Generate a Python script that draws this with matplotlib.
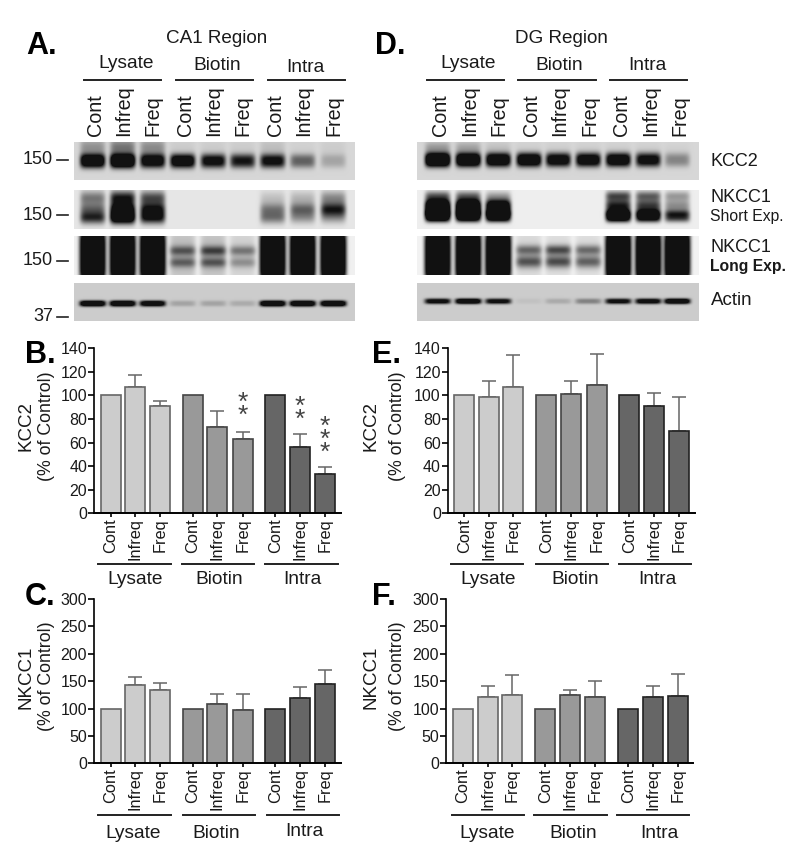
import numpy as np
import matplotlib
matplotlib.use("Agg")
import matplotlib.pyplot as plt
from matplotlib.lines import Line2D

plt.rcParams['font.family'] = ['Liberation Sans', 'DejaVu Sans']

# bar data
lanes = ["Cont", "Infreq", "Freq", "Cont", "Infreq", "Freq", "Cont", "Infreq", "Freq"]
groups = ["Lysate", "Biotin", "Intra"]

b_vals = [100, 107, 91, 100, 73, 63, 100, 56, 33]
b_errs = [0, 10, 4, 0, 14, 6, 0, 11, 6]
e_vals = [100, 99, 107, 100, 101, 109, 100, 91, 70]
e_errs = [0, 13, 27, 0, 11, 26, 0, 11, 29]
c_vals = [100, 143, 133, 100, 109, 97, 100, 120, 144]
c_errs = [0, 15, 14, 0, 18, 30, 0, 19, 27]
f_vals = [100, 121, 125, 100, 125, 121, 100, 121, 123]
f_errs = [0, 20, 36, 0, 9, 30, 0, 20, 40]

# blot band darkness per lane (0 = nothing, above 1 = saturated black)
a_kcc2_main = [1.5, 1.8, 1.3, 1.4, 1.15, 1.0, 1.1, .6, .25]
a_kcc2_smear = [.35, .5, .38, .05, .05, .05, .12, .03, .05]
a_short_up = [.5, .95, .7, 0, 0, 0, .15, .2, .4]
a_short_mid = [.55, 1.3, 1.0, 0, 0, 0, .5, .6, .95]
a_short_low = [.8, 1.4, .9, 0, 0, 0, .45, .3, .28]
a_long_main = [1.6, 1.6, 1.6, .22, .22, .14, 1.6, 1.6, 1.6]
a_long_up = [0, 0, 0, .5, .6, .42, 0, 0, 0]
a_long_low = [0, 0, 0, .45, .5, .3, 0, 0, 0]
a_actin = [1.6, 1.6, 1.4, .22, .22, .18, 1.6, 1.6, 1.6]

d_kcc2_main = [1.9, 1.7, 1.5, 1.5, 1.3, 1.35, 1.4, 1.2, .42]
d_kcc2_smear = [.3, .25, .1, .03, .03, .03, .03, .03, .02]
d_short_up = [.6, .55, .3, 0, 0, 0, .7, .6, .35]
d_short_main = [2, 2, 1.6, 0, 0, 0, 1.0, .85, .45]
d_short_low = [1.5, 1.4, 1.4, 0, 0, 0, 1.5, 1.3, .85]
d_long_main = [1.6, 1.6, 1.6, .12, .1, .1, 1.6, 1.6, 1.6]
d_long_up = [0, 0, 0, .5, .65, .5, 0, 0, 0]
d_long_low = [0, 0, 0, .6, .65, .55, 0, 0, 0]
d_actin = [1.2, 1.5, 1.15, .06, .18, .4, 1.15, 1.25, 1.5]

fig = plt.figure(figsize=(8, 8.61), dpi=100)
W, H = 800.0, 861.0


def put_text(x, y, s, size, **kw):
    kw.setdefault('ha', 'center')
    kw.setdefault('va', 'center')
    kw.setdefault('color', '#1a1a1a')
    fig.text(x / W, 1 - y / H, s, fontsize=size, **kw)


def put_line(x0, x1, y0, y1=None, lw=1.4, color='#222222'):
    y1 = y0 if y1 is None else y1
    fig.add_artist(Line2D([x0 / W, x1 / W], [1 - y0 / H, 1 - y1 / H], lw=lw, color=color))


def blot(left, right, top, bottom, lane_x, half_w, bg, bands):
    ax = fig.add_axes([left / W, 1 - bottom / H, (right - left) / W, (bottom - top) / H])
    xx, yy = np.meshgrid(np.arange(left, right) + .5, np.arange(top, bottom) + .5)
    dark = np.zeros_like(xx, dtype=float)
    for frac, hh, power, levels in bands:
        yc = top + frac * (bottom - top)
        for lx, d in zip(lane_x, levels):
            dark += d * np.exp(-(np.abs(xx - lx) / half_w) ** 6) * np.exp(-(np.abs(yy - yc) / hh) ** power)
    img = bg + (0.07 - bg) * np.clip(dark, 0, 1)
    ax.imshow(img, cmap='gray', vmin=0, vmax=1, aspect='auto', interpolation='bilinear')
    ax.axis('off')


# western blots
row_y = [(142, 180), (190, 229), (236, 275), (283, 321)]
a_x = [92.7, 122.7, 152.7, 182.7, 213.3, 242.7, 272.7, 302.7, 333.3]
d_x = [437.7, 468.3, 498.3, 529, 558.3, 588.3, 618.3, 648.3, 677.3]

blot(74, 355, *row_y[0], a_x, 12.5, .84, [(.5, 7, 2.5, a_kcc2_main), (.15, 9, 2, a_kcc2_smear)])
blot(74, 355, *row_y[1], a_x, 12.5, .90, [(.2, 7, 2, a_short_up), (.5, 7, 2, a_short_mid), (.72, 6, 2, a_short_low)])
blot(74, 355, *row_y[2], a_x, 13, .94, [(.5, 26, 6, a_long_main), (.38, 5, 2, a_long_up), (.68, 5, 2, a_long_low)])
blot(74, 355, *row_y[3], a_x, 13, .80, [(.54, 3, 2.5, a_actin)])

blot(417, 699, *row_y[0], d_x, 12.5, .84, [(.47, 7, 2.5, d_kcc2_main), (.15, 6, 2, d_kcc2_smear)])
blot(417, 699, *row_y[1], d_x, 12.5, .93, [(.15, 5, 2, d_short_up), (.45, 8, 2.5, d_short_main), (.68, 5.5, 2.5, d_short_low)])
blot(417, 699, *row_y[2], d_x, 13, .95, [(.5, 26, 6, d_long_main), (.36, 5, 2, d_long_up), (.66, 6, 2, d_long_low)])
blot(417, 699, *row_y[3], d_x, 13, .80, [(.48, 2.8, 2.5, d_actin)])

# blot header text
put_text(216.7, 38.5, "CA1 Region", 13.6)
put_text(561.7, 38.5, "DG Region", 13.6)
a_head_x = [126, 216.7, 305]
a_head_y = [64, 65, 67]
a_rule = [(84, 161), (175.7, 253), (267.7, 345)]
d_head_x = [468, 559, 647.7]
d_head_y = [64, 66, 66]
d_rule = [(426.7, 503.7), (518, 596), (610, 687)]
for name, x, y, r in zip(groups, a_head_x, a_head_y, a_rule):
    put_text(x, y, name, 13.8)
    put_line(r[0], r[1], 80)
for name, x, y, r in zip(groups, d_head_x, d_head_y, d_rule):
    put_text(x, y, name, 13.8)
    put_line(r[0], r[1], 80)

a_lab_x = [95, 124, 153, 185.7, 214, 243, 275, 304, 334]
d_lab_x = [440.7, 470, 499, 531, 560, 590, 621.7, 650.7, 680]
for lab_x in (a_lab_x, d_lab_x):
    for name, x in zip(lanes, lab_x):
        put_text(x, 135.5, name, 14.2, rotation=90, va='bottom')

# size markers
for y, s in zip([160, 215, 260.7, 316.7], ["150", "150", "150", "37"]):
    put_text(53, y, s, 13, ha='right')
    put_line(57.5, 68, y, lw=1.2)

# blot names on the right
put_text(710, 161, "KCC2", 13, ha='left')
put_text(710, 198, "NKCC1", 13, ha='left')
put_text(710, 217, "Short Exp.", 11.3, ha='left')
put_text(710, 247, "NKCC1", 13, ha='left')
put_text(710, 267, "Long Exp.", 11.3, ha='left', fontweight='bold')
put_text(711, 300.7, "Actin", 13.5, ha='left')

# panel letters
for x, y, s in [(26, 46.5, "A."), (375, 46.5, "D."), (25, 355, "B."), (372, 355, "E."), (25, 597, "C."), (372, 597, "F.")]:
    put_text(x, y, s, 22, ha='left', fontweight='bold', color='black')


def bar_panel(left, right, top, bottom, bar_x, vals, errs, ymax, step):
    ax = fig.add_axes([left / W, 1 - bottom / H, (right - left) / W, (bottom - top) / H])
    ax.set_xlim(left, right)
    ax.set_ylim(0, ymax)
    colors = ['#cccccc'] * 3 + ['#999999'] * 3 + ['#666666'] * 3
    edges = ['#666666'] * 3 + ['#444444'] * 3 + ['#222222'] * 3
    for x, v, er, c, ec in zip(bar_x, vals, errs, colors, edges):
        if er > 0:
            ax.errorbar(x, v, yerr=[[0], [er]], color='#666666', lw=1.1, capsize=5, capthick=1.1, zorder=1)
        ax.bar(x, v, width=20, color=c, edgecolor=ec, linewidth=1.2, zorder=2)
    ax.set_yticks(np.arange(0, ymax + 1, step))
    ax.set_xticks(bar_x)
    ax.set_xticklabels(lanes, rotation=90, fontsize=11.8, color='#1a1a1a')
    ax.tick_params(axis='y', length=4.5, width=1.2, labelsize=11.5, pad=0.5, labelcolor='#1a1a1a')
    ax.tick_params(axis='x', length=3, width=1.2, pad=0.5)
    ax.spines['top'].set_visible(False)
    ax.spines['right'].set_visible(False)
    ax.spines['left'].set_linewidth(1.2)
    ax.spines['bottom'].set_linewidth(1.4)
    ax.patch.set_alpha(0)
    return ax


b_x = [110.7, 135.3, 160, 192.7, 217.3, 242.7, 275.3, 300, 324.7]
e_x = [464.3, 489, 513.3, 546.3, 571.3, 596.7, 629.3, 654, 678.7]
f_x = [463, 488, 512.3, 545.3, 570.3, 595, 628.3, 653, 677.7]

bar_panel(94, 341, 348.3, 513.3, b_x, b_vals, b_errs, 140, 20)
bar_panel(447.7, 695, 348.3, 513.3, e_x, e_vals, e_errs, 140, 20)
bar_panel(94, 341, 599, 763.3, b_x, c_vals, c_errs, 300, 50)
bar_panel(446, 693, 599, 763.3, f_x, f_vals, f_errs, 300, 50)

# y axis titles
put_text(26, 426, "KCC2", 13.5, rotation=90)
put_text(46.5, 426, "(% of Control)", 12.8, rotation=90)
put_text(371, 426, "KCC2", 13.5, rotation=90)
put_text(398, 426, "(% of Control)", 12.8, rotation=90)
put_text(26, 677, "NKCC1", 13.5, rotation=90)
put_text(46.5, 676, "(% of Control)", 12.8, rotation=90)
put_text(371, 677, "NKCC1", 13.5, rotation=90)
put_text(398, 676, "(% of Control)", 12.8, rotation=90)

# significance stars, one text per stack
for x, y, n in [(242.7, 409, 2), (300, 413.5, 2), (324.7, 439.5, 3)]:
    put_text(x, y, "\n".join(["*"] * n), 19, color='#444444', linespacing=0.42)

# group rules under the bar charts
for y, spans in [(564.3, [(98, 171), (182, 254), (265, 338)]),
                 (564.3, [(450.7, 522.7), (536, 608), (618.7, 691)]),
                 (815.3, [(98, 171), (183, 255), (267, 339)]),
                 (815.3, [(451.7, 524.3), (534.3, 606.7), (616.7, 689.3)])]:
    for s in spans:
        put_line(s[0], s[1], y)

for x, y, s in zip([135, 219, 302, 488, 575, 657], [579] * 6, groups * 2):
    put_text(x, y, s, 13.8)
for x, y, s in zip([133, 216, 304, 487, 573, 659], [833, 833, 831.7, 833, 833, 833], groups * 2):
    put_text(x, y, s, 13.8)

fig.savefig("out.png", dpi=100)
